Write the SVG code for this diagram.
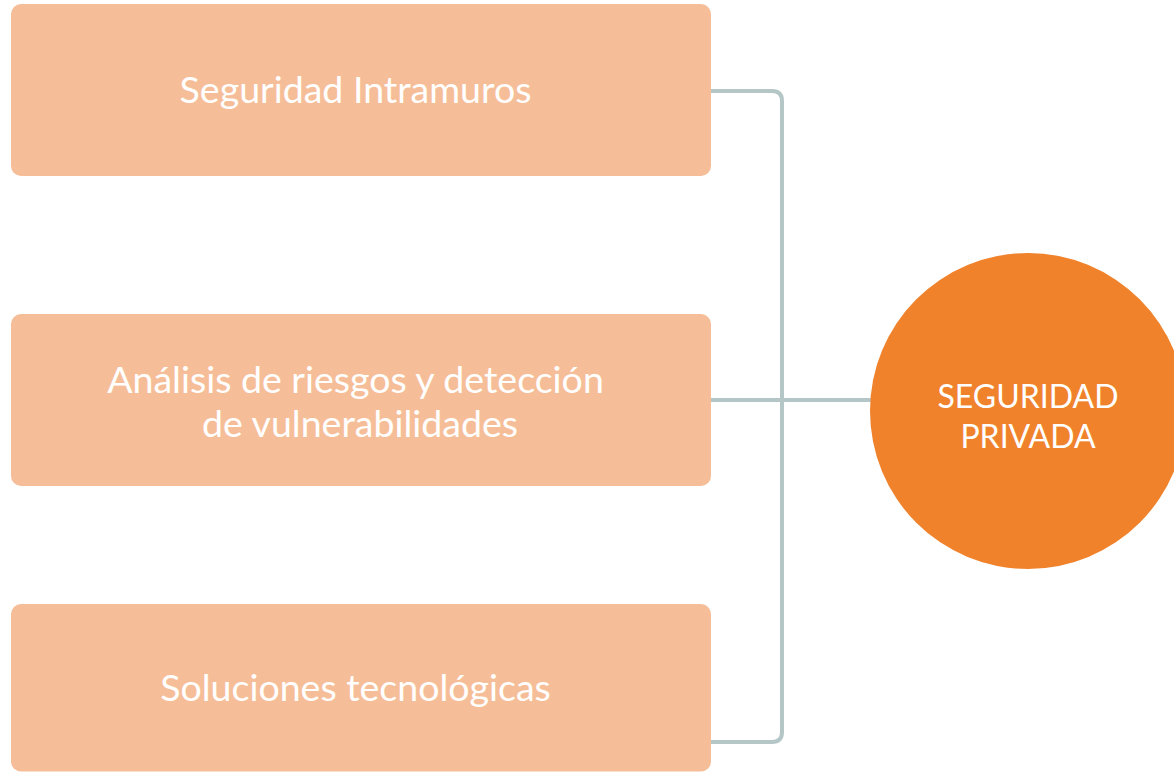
<svg xmlns="http://www.w3.org/2000/svg" width="1174" height="772" viewBox="0 0 1174 772">
<style>
.box{fill:#F6BE98}
.bt{font-family:Lato,"Liberation Sans",sans-serif;font-size:37.5px;fill:#FFFFFF;text-anchor:middle}
.ct{font-family:Lato,"Liberation Sans",sans-serif;font-size:32px;fill:#FFFFFF;text-anchor:middle}
.con{fill:none;stroke:#B5C6C7;stroke-width:4}
</style>
<rect width="1174" height="772" fill="#FFFFFF"/>
<g id="connectors">
<path class="con" d="M711,91 H772 Q782,91 782,101 V732 Q782,742 772,742 H711"/>
<path class="con" d="M711,400 H872"/>
</g>
<g id="node-intramuros">
<rect class="box" x="11" y="4" width="700" height="172" rx="10"/>
<text class="bt" x="355.5" y="103">Seguridad Intramuros</text>
</g>
<g id="node-analisis">
<rect class="box" x="11" y="314" width="700" height="172" rx="10"/>
<text class="bt" x="355.5" y="393">Análisis de riesgos y detección</text>
<text class="bt" x="360" y="437">de vulnerabilidades</text>
</g>
<g id="node-soluciones">
<rect class="box" x="11" y="604" width="700" height="167.5" rx="10"/>
<text class="bt" x="355.5" y="701">Soluciones tecnológicas</text>
</g>
<g id="node-seguridad-privada">
<circle cx="1028" cy="411" r="158" fill="#F0822C"/>
<text class="ct" x="1028" y="408">SEGURIDAD</text>
<text class="ct" x="1028" y="448">PRIVADA</text>
</g>
</svg>
